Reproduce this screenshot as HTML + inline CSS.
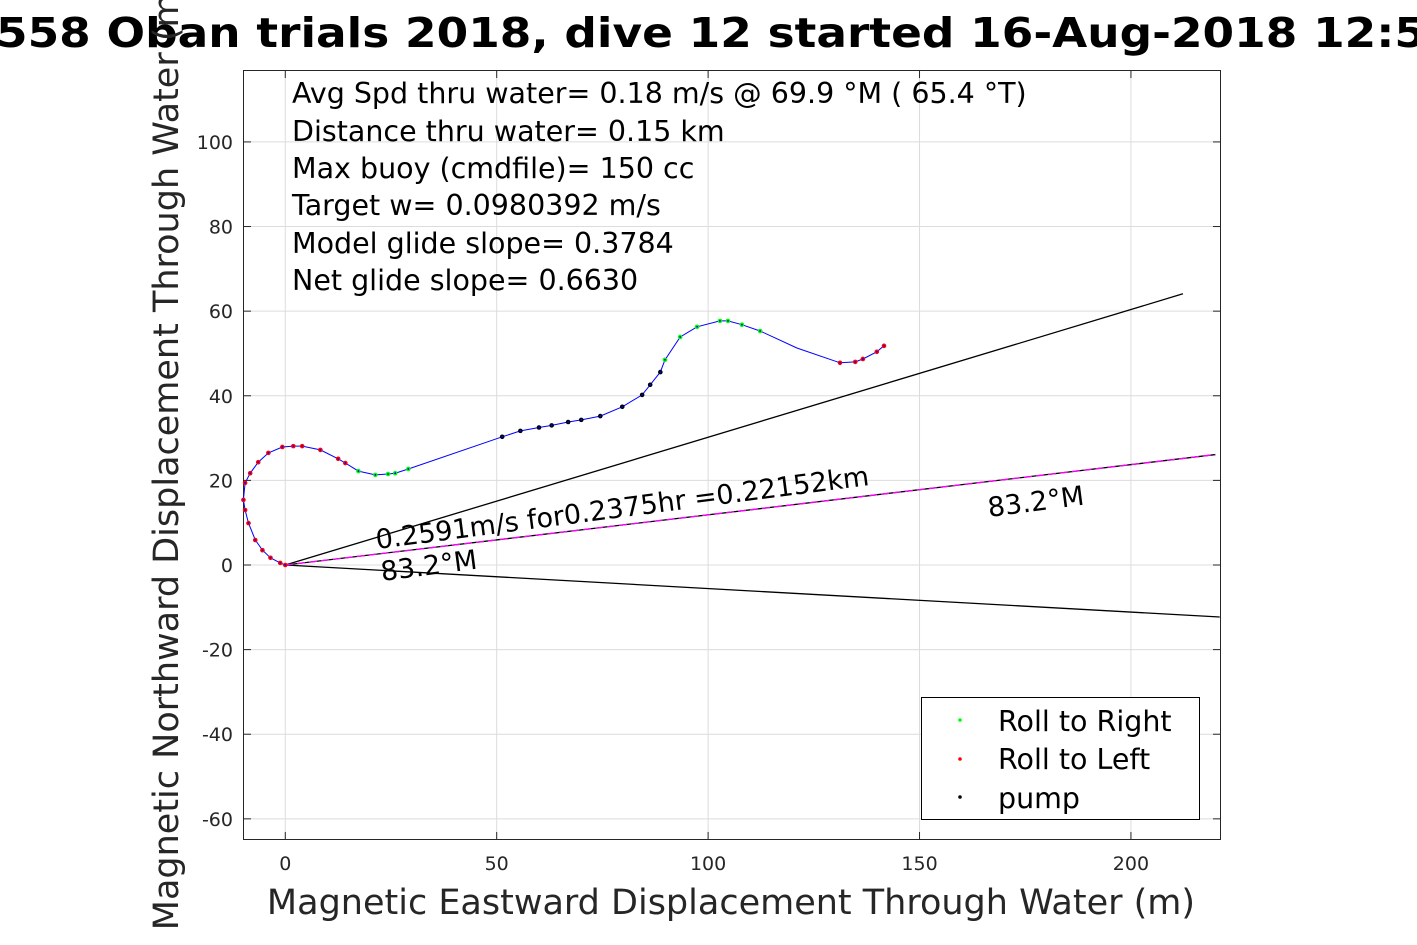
<!DOCTYPE html>
<html><head><meta charset="utf-8"><style>
html,body{margin:0;padding:0;background:#fff;}
svg{display:block;font-family:"DejaVu Sans","Liberation Sans",sans-serif;}
</style></head><body>
<svg id="chart" width="1417" height="945" viewBox="0 0 1417 945">
<rect x="0" y="0" width="1417" height="945" fill="#fff"/>
<g id="grid"></g>
<g id="axes"></g>
<g id="series"></g>
<text x="-4" y="47" font-size="41" font-weight="bold" fill="#000" textLength="1430" lengthAdjust="spacingAndGlyphs">558 Oban trials 2018, dive 12 started 16-Aug-2018 12:5</text>
<text x="731" y="914" font-size="35" fill="#262626" text-anchor="middle">Magnetic Eastward Displacement Through Water (m)</text>
<text transform="translate(178,455) rotate(-90)" font-size="35" fill="#262626" text-anchor="middle">Magnetic Northward Displacement Through Water (m)</text>
<g font-size="28.5" fill="#000">
<text x="292" y="103">Avg Spd thru water=  0.18 m/s @  69.9 °M ( 65.4 °T)</text>
<text x="292" y="141">Distance thru water=  0.15 km</text>
<text x="292" y="178">Max buoy (cmdfile)= 150 cc</text>
<text x="292" y="215">Target w= 0.0980392 m/s</text>
<text x="292" y="253">Model glide slope= 0.3784</text>
<text x="292" y="290">Net glide slope= 0.6630</text>
</g>
<text transform="translate(377,549) rotate(-7.4)" font-size="27" fill="#000">0.2591m/s for0.2375hr =0.22152km</text>
<text transform="translate(382,581) rotate(-7.4)" font-size="27" fill="#000">83.2°M</text>
<text transform="translate(989,517) rotate(-7.4)" font-size="27" fill="#000">83.2°M</text>
<g>
<rect x="921.5" y="697.5" width="278" height="122" fill="#fff" stroke="#000" stroke-width="1"/>
<circle cx="960" cy="720" r="1.8" fill="#00ff00"/>
<text x="998" y="731" font-size="28.5">Roll to Right</text>
<circle cx="960" cy="759" r="1.8" fill="#ff0000"/>
<text x="998" y="769" font-size="28.5">Roll to Left</text>
<circle cx="960" cy="797" r="1.8" fill="#000"/>
<text x="998" y="808" font-size="28.5">pump</text>
</g>
</svg>
<script>
const xTicks=[0,50,100,150,200];
const yTicks=[-60,-40,-20,0,20,40,60,80,100];
const trackX=[0,-1.2,-3.5,-5.4,-7.1,-8.7,-9.5,-9.9,-9.5,-8.3,-6.4,-4,-0.7,1.9,4,8.3,12.5,14.2,17.3,21.3,24.3,26,29.1,51.3,55.6,60,63,66.9,70,74.5,79.7,84.4,86.3,88.7,89.8,93.4,97.4,102.8,104.7,108,112.3,121,131.2,134.8,136.6,139.9,141.6];
const trackY=[0,0.5,1.7,3.5,5.9,9.9,13,15.4,19.4,21.7,24.3,26.5,27.9,28.1,28.1,27.2,25.1,24.1,22.2,21.3,21.5,21.7,22.7,30.3,31.7,32.5,33,33.8,34.3,35.2,37.4,40.2,42.6,45.6,48.5,53.9,56.3,57.7,57.7,56.8,55.3,51.3,47.8,48,48.7,50.4,51.8];
const markerType=["L","L","L","L","L","L","L","L","L","L","L","L","L","L","L","L","L","L","R","R","R","R","R","P","P","P","P","P","P","P","P","P","P","P","R","R","R","R","R","R","R","N","L","L","L","L","L"];
const dirLineEnd=[212.3,64.1];
const lowerLineEnd=[221,-12.3];
const currentLineEnd=[220,26.1];
const xMin=-10, xMax=221.3, yMin=-65, yMax=117;
const L=243,R=1221,T=70,B=840;
const sx=v=>L+(v-xMin)/(xMax-xMin)*(R-L);
const sy=v=>B-(v-yMin)/(yMax-yMin)*(B-T);
const NS="http://www.w3.org/2000/svg";
function mk(tag,parent,attrs){const e=document.createElementNS(NS,tag);for(const k in attrs)e.setAttribute(k,attrs[k]);parent.appendChild(e);return e;}
const grid=document.getElementById('grid'),axes=document.getElementById('axes'),series=document.getElementById('series');
xTicks.forEach(t=>{
 const gl=mk('line',grid,{x1:sx(t),x2:sx(t),y1:T,y2:B,stroke:'#dcdcdc','stroke-width':1});
 
 
 [[B,B-8],[T,T+8]].forEach(p=>{const tk=mk('line',axes,{x1:sx(t),x2:sx(t),y1:p[0],y2:p[1],stroke:'#262626','stroke-width':1});
 
 });
 const lb=mk('text',axes,{x:sx(t),y:870,'font-size':19,'text-anchor':'middle',fill:'#262626'});lb.textContent=t;
 
 
});
yTicks.forEach(t=>{
 const gl=mk('line',grid,{x1:L,x2:R,y1:sy(t),y2:sy(t),stroke:'#dcdcdc','stroke-width':1});
 
 
 [[L,L+8],[R,R-8]].forEach(p=>{const tk=mk('line',axes,{x1:p[0],x2:p[1],y1:sy(t),y2:sy(t),stroke:'#262626','stroke-width':1});
 
 });
 const lb=mk('text',axes,{x:233,y:sy(t)+7,'font-size':19,'text-anchor':'end',fill:'#262626'});lb.textContent=t;
 
 
});
const box=mk('rect',axes,{x:L+0.5,y:T+0.5,width:R-L-1,height:B-T-1,fill:'none',stroke:'#262626','stroke-width':1});


const l1=mk('line',series,{x1:sx(0),y1:sy(0),x2:sx(dirLineEnd[0]),y2:sy(dirLineEnd[1]),stroke:'#000','stroke-width':1.3});


const l2=mk('line',series,{x1:sx(0),y1:sy(0),x2:sx(lowerLineEnd[0]),y2:sy(lowerLineEnd[1]),stroke:'#000','stroke-width':1.3});


const l3=mk('line',series,{x1:sx(0),y1:sy(0),x2:sx(currentLineEnd[0]),y2:sy(currentLineEnd[1]),stroke:'#000','stroke-width':1.3});


const l4=mk('line',series,{x1:sx(0),y1:sy(0),x2:sx(currentLineEnd[0]),y2:sy(currentLineEnd[1]),stroke:'#ff00ff','stroke-width':1.3,'stroke-dasharray':'8 4'});


const pts=trackX.map((x,i)=>sx(x).toFixed(1)+','+sy(trackY[i]).toFixed(1)).join(' ');
const tr=mk('polyline',series,{points:pts,fill:'none',stroke:'#0000ff','stroke-width':1});


const colors={L:'#ff0000',R:'#00ff00',P:'#000000'};
trackX.forEach((x,i)=>{
 const c=colors[markerType[i]];if(!c)return;
 const m=mk('circle',series,{cx:sx(x),cy:sy(trackY[i]),r:2.3,fill:c});
 
 
 const d=mk('circle',series,{cx:sx(x),cy:sy(trackY[i]),r:0.9,fill:'#0000ff'});
 
 
});
</script>
</body></html>
